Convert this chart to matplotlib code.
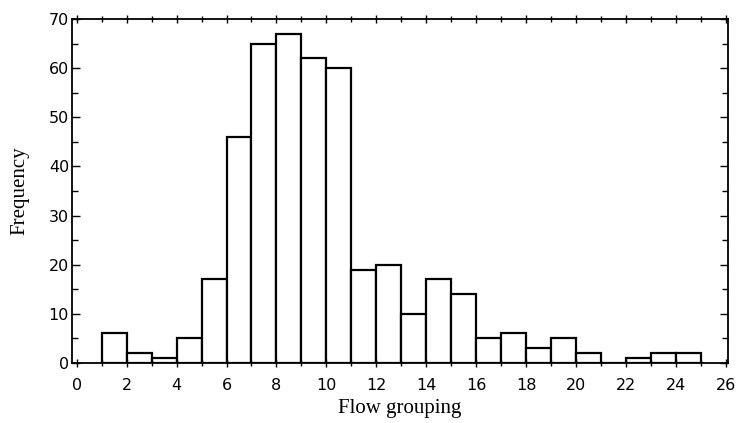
import numpy as np
import matplotlib
matplotlib.use('Agg')
import matplotlib.pyplot as plt
from matplotlib.ticker import MultipleLocator

# Bin left edges (width 1) and counts
bin_left = [1, 2, 3, 4, 5, 6, 7, 8, 9, 10, 11, 12,
            13, 14, 15, 16, 17, 18, 19, 20, 21, 22, 23, 24]
counts = [6, 2, 1, 5, 17, 46, 65, 67, 62, 60, 19, 20,
          10, 17, 14, 5, 6, 3, 5, 2, 0, 1, 2, 2]

xticks = list(range(0, 27, 2))
yticks = list(range(0, 71, 10))

fig = plt.figure(figsize=(7.4, 4.23), dpi=100)
ax = fig.add_axes([0.097, 0.142, 0.887, 0.813])

ax.bar(bin_left, counts, width=1.0, align='edge', color='white',
       edgecolor='black', linewidth=1.6)

ax.set_xlim(-0.2, 26.1)
ax.set_ylim(0, 70)
ax.set_xticks(xticks)
ax.set_yticks(yticks)
ax.xaxis.set_minor_locator(MultipleLocator(1))
ax.yaxis.set_minor_locator(MultipleLocator(5))

for s in ax.spines.values():
    s.set_linewidth(1.3)

ax.tick_params(which='both', direction='in', top=True, right=True,
               labelsize=11.5, width=1.0)
ax.tick_params(axis='x', which='both', direction='inout', pad=8)
ax.tick_params(axis='y', which='both', pad=2)
ax.tick_params(which='major', length=6)
ax.tick_params(which='minor', length=4)
for lab in ax.get_xticklabels() + ax.get_yticklabels():
    lab.set_family('DejaVu Sans')

ax.set_xlabel('Flow grouping', fontsize=15, family='Liberation Serif', labelpad=4)
ax.set_ylabel('Frequency', fontsize=15, family='Liberation Serif', labelpad=14)

fig.savefig('out.png', dpi=100)
plt.close('all')
